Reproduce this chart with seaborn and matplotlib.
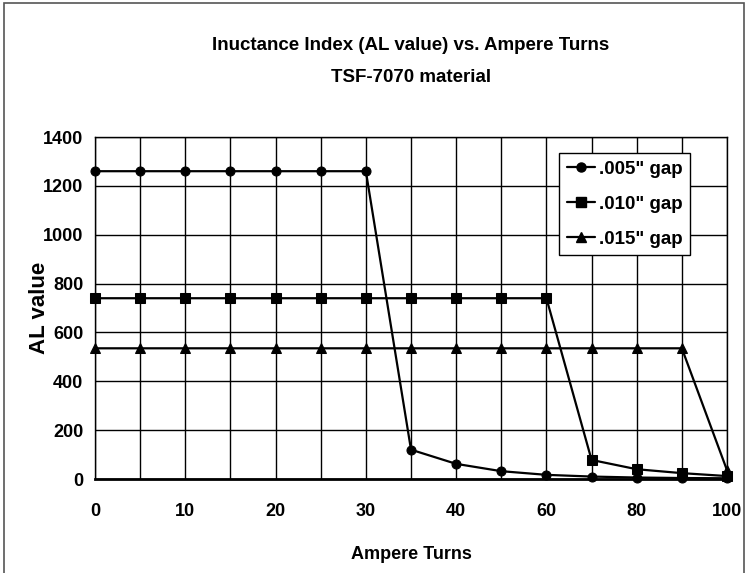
import matplotlib
matplotlib.use("Agg")
import matplotlib.pyplot as plt
import seaborn as sns
import pandas as pd
import numpy as np
from matplotlib.patches import Rectangle
from matplotlib.lines import Line2D

turns = [0, 5, 10, 15, 20, 25, 30, 35, 40, 50, 60, 70, 80, 90, 100]
tick_labels = ["0", "", "10", "", "20", "", "30", "", "40", "", "60", "", "80", "", "100"]
gap_005 = [1260, 1260, 1260, 1260, 1260, 1260, 1260, 120, 62, 32, 17, 10, 6, 4, 3]
gap_010 = [740, 740, 740, 740, 740, 740, 740, 740, 740, 740, 740, 78, 40, 24, 12]
gap_015 = [535, 535, 535, 535, 535, 535, 535, 535, 535, 535, 535, 535, 535, 535, 36]
series_names = ['.005" gap', '.010" gap', '.015" gap']
markers = ["o", "s", "^"]

sns.set_theme(style="white")
plt.rcParams["font.family"] = ["Liberation Sans", "DejaVu Sans"]
plt.rcParams["font.weight"] = "bold"
plt.rcParams["text.color"] = "black"
plt.rcParams["axes.labelcolor"] = "black"

rows = []
for name, vals in zip(series_names, [gap_005, gap_010, gap_015]):
    for i, (t, v) in enumerate(zip(turns, vals)):
        rows.append({"pos": i, "turns": t, "AL": v, "gap": name})
df = pd.DataFrame(rows)

fig = plt.figure(figsize=(7.48, 5.73), dpi=100)
ax = fig.add_axes([95/748, 1 - 479/573, (727-95)/748, (479-137)/573])

sns.lineplot(data=df, x="pos", y="AL", hue="gap", style="gap",
             palette=["black"]*3, markers=dict(zip(series_names, markers)),
             dashes=False, linewidth=1.6, markersize=6.5, markeredgecolor="black",
             ax=ax, legend=False, clip_on=False, zorder=5)

ax.set_xlim(0, len(turns) - 1)
ax.set_ylim(0, 1400)
ax.set_xticks(range(len(turns)))
ax.set_xticklabels(tick_labels)
ax.set_yticks(range(0, 1401, 200))
ax.grid(True, color="black", linewidth=1)
for s in ax.spines.values():
    s.set_color("black")
    s.set_linewidth(1)
ax.spines["bottom"].set_linewidth(2)
ax.tick_params(axis="both", which="both", direction="out", length=5, width=1,
               color="black", labelsize=13, labelcolor="black")
ax.tick_params(axis="x", pad=12, length=5)
for lab in ax.get_xticklabels() + ax.get_yticklabels():
    lab.set_fontweight("bold")

ax.set_xlabel("Ampere Turns", fontsize=13, fontweight="bold", labelpad=19)
ax.set_ylabel("AL value", fontsize=16, fontweight="bold", labelpad=-5)

fig.text(411/748, 1 - 46/573, "Inuctance Index (AL value) vs. Ampere Turns",
         ha="center", va="center", fontsize=13.5, fontweight="bold")
fig.text(411/748, 1 - 78/573, "TSF-7070 material",
         ha="center", va="center", fontsize=13.5, fontweight="bold")

handles = [Line2D([0], [0], color="black", lw=1.6, marker=m, markersize=6.5)
           for m in markers]
leg = ax.legend(handles, series_names, loc="upper left",
                bbox_to_anchor=((559-95)/(727-95), 1 - (153-137)/(479-137)),
                frameon=True, fancybox=False, edgecolor="black",
                fontsize=13.5, handlelength=1.5, handletextpad=0.25,
                labelspacing=0.95, borderpad=0.4, borderaxespad=0)
leg.get_frame().set_linewidth(1)
leg.get_frame().set_facecolor("white")
leg.get_frame().set_alpha(1)
leg.set_zorder(10)

fig.patches.append(Rectangle((4/748, -0.1), (744-4)/748, 1 - 3/573 + 0.1,
                             transform=fig.transFigure, fill=False,
                             edgecolor="#555555", linewidth=1.2))

fig.savefig("out.png", dpi=100)
